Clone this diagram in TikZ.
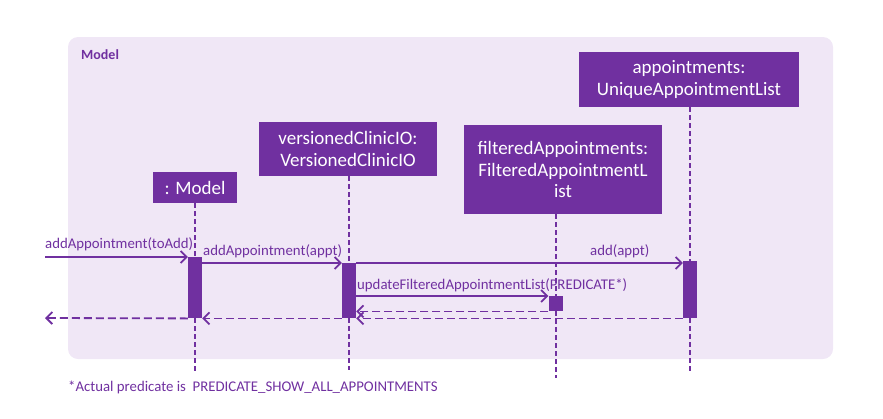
\documentclass[tikz,border=0pt]{standalone}
\usepackage{fontspec}
\setmainfont{Carlito}
\usetikzlibrary{arrows.meta}
\definecolor{ModelPurple}{HTML}{7030A0}
\definecolor{FrameLilac}{HTML}{F0E7F6}

\tikzset{
  objbox/.style={fill=ModelPurple, draw=none, text=white, align=center,
    font=\fontsize{19}{21.5}\selectfont, inner sep=0pt},
  actbar/.style={fill=ModelPurple, draw=none, minimum width=14, inner sep=0pt, anchor=north},
  lifeline/.style={ModelPurple, line width=2pt, dash pattern=on 5pt off 3pt},
  msg/.style={ModelPurple, line width=1.8pt, -{Straight Barb[length=6pt,width=12pt]}},
  reply/.style={msg, dash pattern=on 8pt off 4pt},
  msglabel/.style={anchor=base west, inner sep=0pt, text=ModelPurple,
    font=\fontsize{14.8}{17}\selectfont}
}

\begin{document}
\begin{tikzpicture}[x=1pt,y=-1pt]
  \useasboundingbox (0,0) rectangle (883,418);
  % frame
  \fill[FrameLilac, rounded corners=10pt] (68,37) rectangle (833,359);
  \node[anchor=base west, inner sep=0pt, text=ModelPurple,
    font=\fontsize{14}{16}\bfseries] (frameTitle) at (81,59) {Model};

  % participants
  \node[objbox, minimum width=84, minimum height=31] (modelBox) at (195,187.5) {: Model};
  \node[objbox, minimum width=178, minimum height=54] (versBox) at (348,149)
    {versionedClinicIO:\\VersionedClinicIO};
  \node[objbox, minimum width=198, minimum height=89] (filtBox) at (563,169.5)
    {filteredAppointments:\\FilteredAppointmentL\\ist};
  \node[objbox, minimum width=220, minimum height=55] (apptBox) at (689,79.5)
    {appointments:\\UniqueAppointmentList};

  % activation bars
  \node[actbar, minimum height=61] (mAct) at (195,257) {};
  \node[actbar, minimum height=55] (vAct) at (349,263) {};
  \node[actbar, minimum height=15] (fAct) at (555.5,296) {};
  \node[actbar, minimum height=57] (aAct) at (690,261) {};

  % lifelines
  \coordinate (mEnd) at (195,372);
  \coordinate (vEnd) at (349,370);
  \coordinate (fEnd) at (555.5,378);
  \coordinate (aEnd) at (690,374);
  \draw[lifeline] (modelBox.south) -- (mAct.north);
  \draw[lifeline] (mAct.south) -- (mEnd);
  \draw[lifeline] (versBox.south -| vAct) -- (vAct.north);
  \draw[lifeline] (vAct.south) -- (vEnd);
  \draw[lifeline] (filtBox.south -| fAct) -- (fAct.north);
  \draw[lifeline] (fAct.south) -- (fEnd);
  \draw[lifeline] (apptBox.south -| aAct) -- (aAct.north);
  \draw[lifeline] (aAct.south) -- (aEnd);

  % calls
  \coordinate (callIn) at (45,257);
  \coordinate (callOut) at (45,318);
  \draw[msg] (callIn) -- (mAct.north west);
  \draw[msg] (mAct.east |- vAct.north) -- (vAct.north west);
  \draw[msg] (vAct.north east) -- (aAct.west |- vAct.north);
  \draw[msg] (vAct.east |- fAct.north) -- (fAct.north west);

  % returns
  \draw[reply] (fAct.south west) -- (vAct.east |- fAct.south);
  \draw[reply] (aAct.west |- vAct.south) -- (vAct.south east);
  \draw[reply] (vAct.south west) -- (mAct.south east);
  \draw[reply] (mAct.south west) -- (callOut);

  % message labels
  \node[msglabel] (lblToAdd) at (45,248) {addAppointment(toAdd)};
  \node[msglabel] (lblAppt) at (203,255) {addAppointment(appt)};
  \node[msglabel] (lblAdd) at (590,255) {add(appt)};
  \node[msglabel] (lblUpdate) at (357,289) {updateFilteredAppointmentList(PREDICATE*)};

  % footnote
  \node[msglabel] (footNote) at (68,391) {*Actual predicate is \ PREDICATE\_SHOW\_ALL\_APPOINTMENTS};
\end{tikzpicture}
\end{document}
